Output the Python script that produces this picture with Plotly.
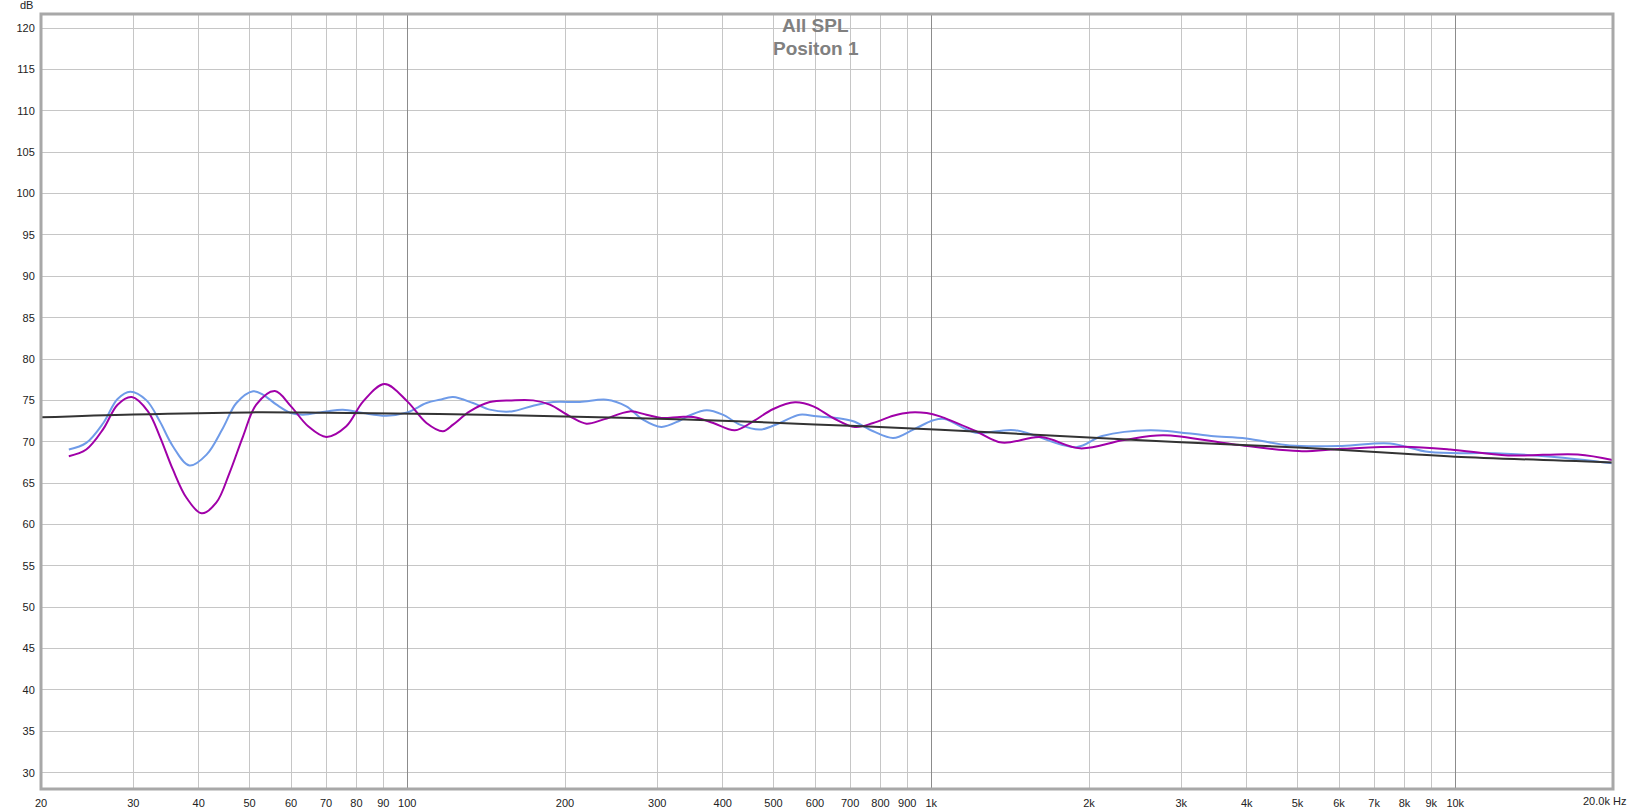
import plotly.graph_objects as go

# ---------------- data ----------------
target_freq = [20, 30, 50, 70, 115, 200, 340, 600, 1040, 2000, 3000, 5000, 8000, 10000, 20000]
target_db = [72.95, 73.3, 73.55, 73.5, 73.35, 73.05, 72.7, 72.1, 71.45, 70.5, 69.95, 69.3, 68.55, 68.2, 67.5]

blue_freq = [22.6, 24.4, 26.3, 28.0, 29.6, 31.8, 33.7, 35.7, 38.4, 41.4, 44.5, 47.2, 50.8, 53.1,
             56.3, 60, 63.2, 70, 75.4, 82.4, 91.3, 100, 108.8, 115.3, 122.3, 133.5, 143.7, 158.1,
             173.9, 189.9, 213.5, 240, 261.9, 281.8, 305.5, 331.5, 346.4, 372.8, 400, 431.5, 471,
             514, 561, 604, 660, 710, 775, 846, 924, 1009, 1060, 1215, 1444, 1889, 2119, 2616,
             3421, 3993, 4829, 6074, 7506, 8932, 11920, 15280, 19950]
blue_db = [69.06, 69.86, 72.27, 75.16, 76.04, 75.0, 72.47, 69.46, 67.13, 68.45, 71.67, 74.68, 76.1, 75.68,
           74.48, 73.47, 73.27, 73.67, 73.88, 73.47, 73.15, 73.55, 74.68, 75.08, 75.4, 74.68, 73.88, 73.67,
           74.36, 74.8, 74.8, 75.08, 74.28, 72.67, 71.79, 72.57, 73.2, 73.8, 73.27, 72.07, 71.47,
           72.27, 73.27, 73.07, 72.87, 72.47, 71.27, 70.46, 71.47, 72.59, 72.75, 71.1, 71.4, 69.35, 70.7, 71.4,
           70.7, 70.4, 69.56, 69.5, 69.8, 68.75, 68.6, 68.2, 67.4]

purple_freq = [22.6, 24.4, 26.3, 28.0, 29.8, 32.0, 33.7, 35.7, 37.9, 40.5, 43.2, 45.8, 48.6, 51.5,
               55.9, 60, 64.7, 70.1, 76.5, 82.4, 90.5, 100, 108.8, 117, 122.3, 131.6, 143.7, 158.1,
               173.9, 187.1, 204.3, 219.7, 236.3, 265.8, 286, 305.5, 331.5, 351.5, 383.7, 422, 457.3,
               499.6, 549.5, 595.5, 650, 715, 775, 846, 910, 980, 1039, 1215, 1364, 1619, 1923, 2332,
               2772, 3762, 5027, 6074, 7940, 9780, 12620, 17130, 19950]
purple_db = [68.25, 69.06, 71.55, 74.48, 75.4, 73.67, 70.66, 66.65, 63.23, 61.35, 62.63, 66.24, 70.66, 74.48,
             76.12, 74.28, 71.87, 70.58, 71.87, 74.88, 76.97, 74.88, 72.27, 71.27, 72.07, 73.67, 74.8, 75.0,
             75.0, 74.48, 73.07, 72.19, 72.67, 73.67, 73.27, 72.87, 73.0, 72.99, 72.27, 71.39, 72.47,
             73.96, 74.76, 74.28, 72.87, 71.79, 72.27, 73.15, 73.55, 73.47, 73.07, 71.3, 69.9, 70.56, 69.2, 70.2,
             70.8, 69.7, 68.87, 69.15, 69.4, 69.07, 68.35, 68.47, 67.8]

x_tick_vals = [20, 30, 40, 50, 60, 70, 80, 90, 100, 200, 300, 400, 500, 600, 700, 800, 900,
               1000, 2000, 3000, 4000, 5000, 6000, 7000, 8000, 9000, 10000, 20000]
x_tick_text = ["20", "30", "40", "50", "60", "70", "80", "90", "100", "200", "300", "400", "500",
               "600", "700", "800", "900", "1k", "2k", "3k", "4k", "5k", "6k", "7k", "8k", "9k",
               "10k", ""]
decade_vals = [100, 1000, 10000]
y_tick_vals = list(range(30, 125, 5))

title_lines = ["All SPL", "Positon 1"]

# ---------------- figure ----------------
fig = go.Figure()

fig.add_trace(go.Scatter(x=blue_freq, y=blue_db, mode="lines",
                         line=dict(color="#6f9be8", width=2, shape="spline", smoothing=1.0),
                         name="Blue", hoverinfo="x+y"))
fig.add_trace(go.Scatter(x=purple_freq, y=purple_db, mode="lines",
                         line=dict(color="#a000a8", width=2, shape="spline", smoothing=1.0),
                         name="Purple", hoverinfo="x+y"))
fig.add_trace(go.Scatter(x=target_freq, y=target_db, mode="lines", xaxis="x2",
                         line=dict(color="#333333", width=2, shape="spline", smoothing=1.0),
                         name="Target", hoverinfo="x+y"))

xr = [1.30103, 4.30103]
tick_font = dict(family="Liberation Sans, Arial, sans-serif", size=11, color="#222222")

fig.update_layout(
    width=1633, height=811,
    margin=dict(l=41, r=20, t=14, b=22, autoexpand=False),
    paper_bgcolor="white", plot_bgcolor="white",
    showlegend=False,
    xaxis=dict(type="log", range=xr, tickmode="array", tickvals=x_tick_vals, ticktext=x_tick_text,
               showgrid=True, gridcolor="#c6c6c6", gridwidth=1, zeroline=False, showline=False,
               automargin=False,
               ticks="outside", ticklen=4, tickcolor="rgba(0,0,0,0)", tickfont=tick_font),
    xaxis2=dict(type="log", range=xr, overlaying="x", anchor="y", tickmode="array",
                tickvals=decade_vals, showticklabels=False, showgrid=True, gridcolor="#8c8c8c",
                gridwidth=1, zeroline=False, showline=False, ticks="", automargin=False),
    yaxis=dict(range=[28.03, 121.7], tickmode="array", tickvals=y_tick_vals,
               showgrid=True, gridcolor="#c6c6c6", gridwidth=1, zeroline=False, showline=False,
               automargin=False,
               ticks="outside", ticklen=3, tickcolor="rgba(0,0,0,0)", tickfont=tick_font),
    shapes=[dict(type="rect", xref="paper", yref="paper", x0=0, x1=1, y0=0, y1=1,
                 line=dict(color="#a8a8a8", width=3), layer="above")],
    annotations=[
        dict(text="<b>%s</b>" % title_lines[0], xref="paper", yref="paper", x=0.493, y=0.985,
             xanchor="center", yanchor="middle", showarrow=False,
             font=dict(family="Liberation Sans, Arial, sans-serif", size=19, color="#808080")),
        dict(text="<b>%s</b>" % title_lines[1], xref="paper", yref="paper", x=0.493, y=0.956,
             xanchor="center", yanchor="middle", showarrow=False,
             font=dict(family="Liberation Sans, Arial, sans-serif", size=19, color="#808080")),
        dict(text="dB", xref="paper", yref="paper", x=-0.0038, y=1.0116, xanchor="right",
             yanchor="middle", showarrow=False, font=tick_font),
        dict(text="20.0k Hz", xref="paper", yref="paper", x=1.0095, y=-0.016, xanchor="right",
             yanchor="middle", showarrow=False, font=tick_font),
    ],
)

# remove the default 8px page margin so the figure sits at the window's top-left corner
fig.write_html("out.html",
               config={"displayModeBar": False},
               post_script="document.body.style.margin='0px';document.body.style.overflow='hidden';")
